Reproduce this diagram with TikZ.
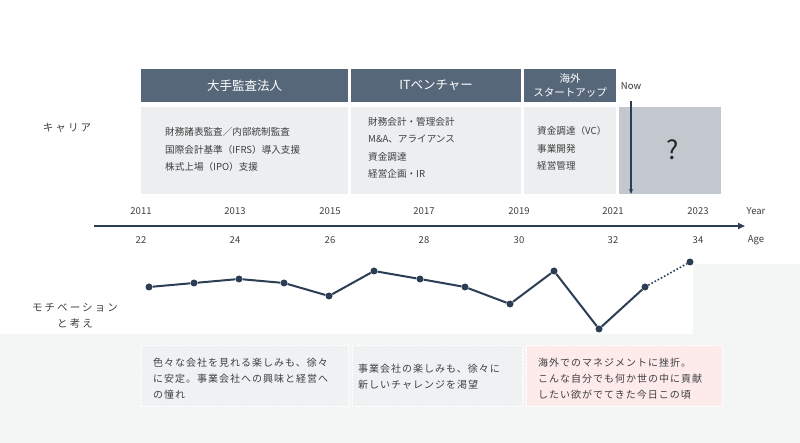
\documentclass[tikz,border=0pt]{standalone}
\usepackage{fontspec}
\setmainfont{Noto Sans CJK JP}
\usetikzlibrary{arrows.meta}

\definecolor{headfill}{HTML}{56677A}
\definecolor{cellfill}{HTML}{ECEEF0}
\definecolor{futurefill}{HTML}{C3C8CF}
\definecolor{navy}{HTML}{2C3E55}
\definecolor{pagebg}{HTML}{F4F5F5}
\definecolor{notefill}{HTML}{EFF1F3}
\definecolor{pinkfill}{HTML}{FDEBEC}
\definecolor{inkgray}{HTML}{3F3F3F}

\begin{document}
\begin{tikzpicture}[x=1pt,y=-1pt,
  headbox/.style={fill=headfill, text=white, inner sep=0pt, anchor=north west,
    minimum height=33pt, align=center, font=\fontsize{12.5}{14}\selectfont},
  cellbox/.style={fill=cellfill, inner sep=0pt, anchor=north west, minimum height=87pt},
  celltext/.style={anchor=west, align=left, text=inkgray, inner sep=0pt,
    font=\fontsize{9.6}{17.5}\selectfont},
  notebox/.style={fill=#1, draw=white, densely dotted, inner sep=0pt, anchor=north west,
    minimum height=61pt},
  notetext/.style={anchor=west, align=left, text=inkgray, inner sep=0pt,
    font=\addfontfeature{LetterSpace=10}\fontsize{10}{16}\selectfont},
  sidelabel/.style={align=center, text=inkgray, inner sep=0pt,
    font=\addfontfeature{LetterSpace=20}\fontsize{10.5}{16}\selectfont},
  ticklabel/.style={text=inkgray, inner sep=0pt, font=\fontsize{9.5}{10}\selectfont},
  dot/.style={circle, fill=navy, inner sep=0pt, minimum size=7pt}]

  % Canvas and grey background band
  \useasboundingbox (0,0) rectangle (800,443);
  \fill[pagebg] (0,334) rectangle (800,443);
  \fill[pagebg] (693,264) rectangle (800,334);

  % Career headers
  \node[headbox, minimum width=207pt] (h-audit) at (141,69) {大手監査法人};
  \node[headbox, minimum width=170pt] (h-venture) at (351,69) {ITベンチャー};
  \node[headbox, minimum width=92pt, font=\fontsize{10.5}{14}\selectfont]
    (h-startup) at (524,69) {海外\\スタートアップ};

  % Career cells
  \node[cellbox, minimum width=207pt] (c-audit) at (141,107) {};
  \node[cellbox, minimum width=170pt] (c-venture) at (351,107) {};
  \node[cellbox, minimum width=92pt] (c-startup) at (524,107) {};
  \node[cellbox, fill=futurefill, minimum width=102pt] (c-future) at (619,107) {};

  \node[celltext] at ([xshift=24pt,yshift=1pt]c-audit.west)
    {財務諸表監査／内部統制監査\\国際会計基準（IFRS）導入支援\\株式上場（IPO）支援};
  \node[celltext] at ([xshift=17pt,yshift=3pt]c-venture.west)
    {財務会計・管理会計\\M\&A、アライアンス\\資金調達\\経営企画・IR};
  \node[celltext] at ([xshift=13pt,yshift=2pt]c-startup.west)
    {資金調達（VC）\\事業開発\\経営管理};
  \node[text=black!85, font=\fontsize{26}{26}\selectfont] (qmark) at ([xshift=2pt,yshift=1pt]c-future.center) {?};

  % Now marker
  \node[ticklabel, text=black!80] (now) at (631,86) {Now};
  \coordinate (now-top) at (631,101);
  \coordinate (now-end) at (631,194);
  \draw[navy, line width=1.1pt, -{Stealth[length=5pt,width=4pt]}] (now-top) -- (now-end);

  \node[sidelabel] (career) at (67,128) {キャリア};

  % Timeline
  \coordinate (axis-start) at (94,226);
  \coordinate (axis-end) at (745,226);
  \draw[navy, line width=2.4pt, -{Triangle[length=7pt,width=6pt]}] (axis-start) -- (axis-end);
  \foreach \x/\yr/\age in {141/2011/22, 235/2013/24, 330/2015/26, 424/2017/28,
      519/2019/30, 613/2021/32, 698/2023/34} {
    \node[ticklabel] (yr-\yr) at (\x,211) {\yr};
    \node[ticklabel] (age-\age) at (\x,240) {\age};
  }
  \node[ticklabel] (yr-label) at (756,211) {Year};
  \node[ticklabel] (age-label) at (756,240) {Age};

  % Motivation curve
  \foreach \i/\x/\y in {1/149/287, 2/194/283, 3/239/279, 4/284/283, 5/329/296, 6/374/271,
      7/420/279, 8/465/287, 9/510/304, 10/554/271, 11/599/329, 12/645/287, 13/690/262} {
    \node[dot] (m\i) at (\x,\y) {};
  }
  \draw[navy, line width=2pt, line join=round]
    (m1) -- (m2) -- (m3) -- (m4) -- (m5) -- (m6) -- (m7) -- (m8) -- (m9) -- (m10) -- (m11) -- (m12);
  \draw[navy, line width=1.6pt, dotted] (m12) -- (m13);

  \node[sidelabel] (motivation) at (75,316) {モチベーション\\と考え};

  % Thought notes
  \node[notebox=notefill, minimum width=207pt] (n-audit) at (141,345) {};
  \node[notebox=notefill, minimum width=170pt] (n-venture) at (352,345) {};
  \node[notebox=pinkfill, minimum width=196pt] (n-startup) at (526,345) {};

  \node[notetext] at ([xshift=12pt,yshift=-3pt]n-audit.west)
    {色々な会社を見れる楽しみも、徐々\\に安定。事業会社への興味と経営へ\\の憧れ};
  \node[notetext] at ([xshift=6pt,yshift=-1pt]n-venture.west)
    {事業会社の楽しみも、徐々に\\新しいチャレンジを渇望};
  \node[notetext] at ([xshift=12pt,yshift=-3pt]n-startup.west)
    {海外でのマネジメントに挫折。\\こんな自分でも何か世の中に貢献\\したい欲がでてきた今日この頃};
\end{tikzpicture}
\end{document}
